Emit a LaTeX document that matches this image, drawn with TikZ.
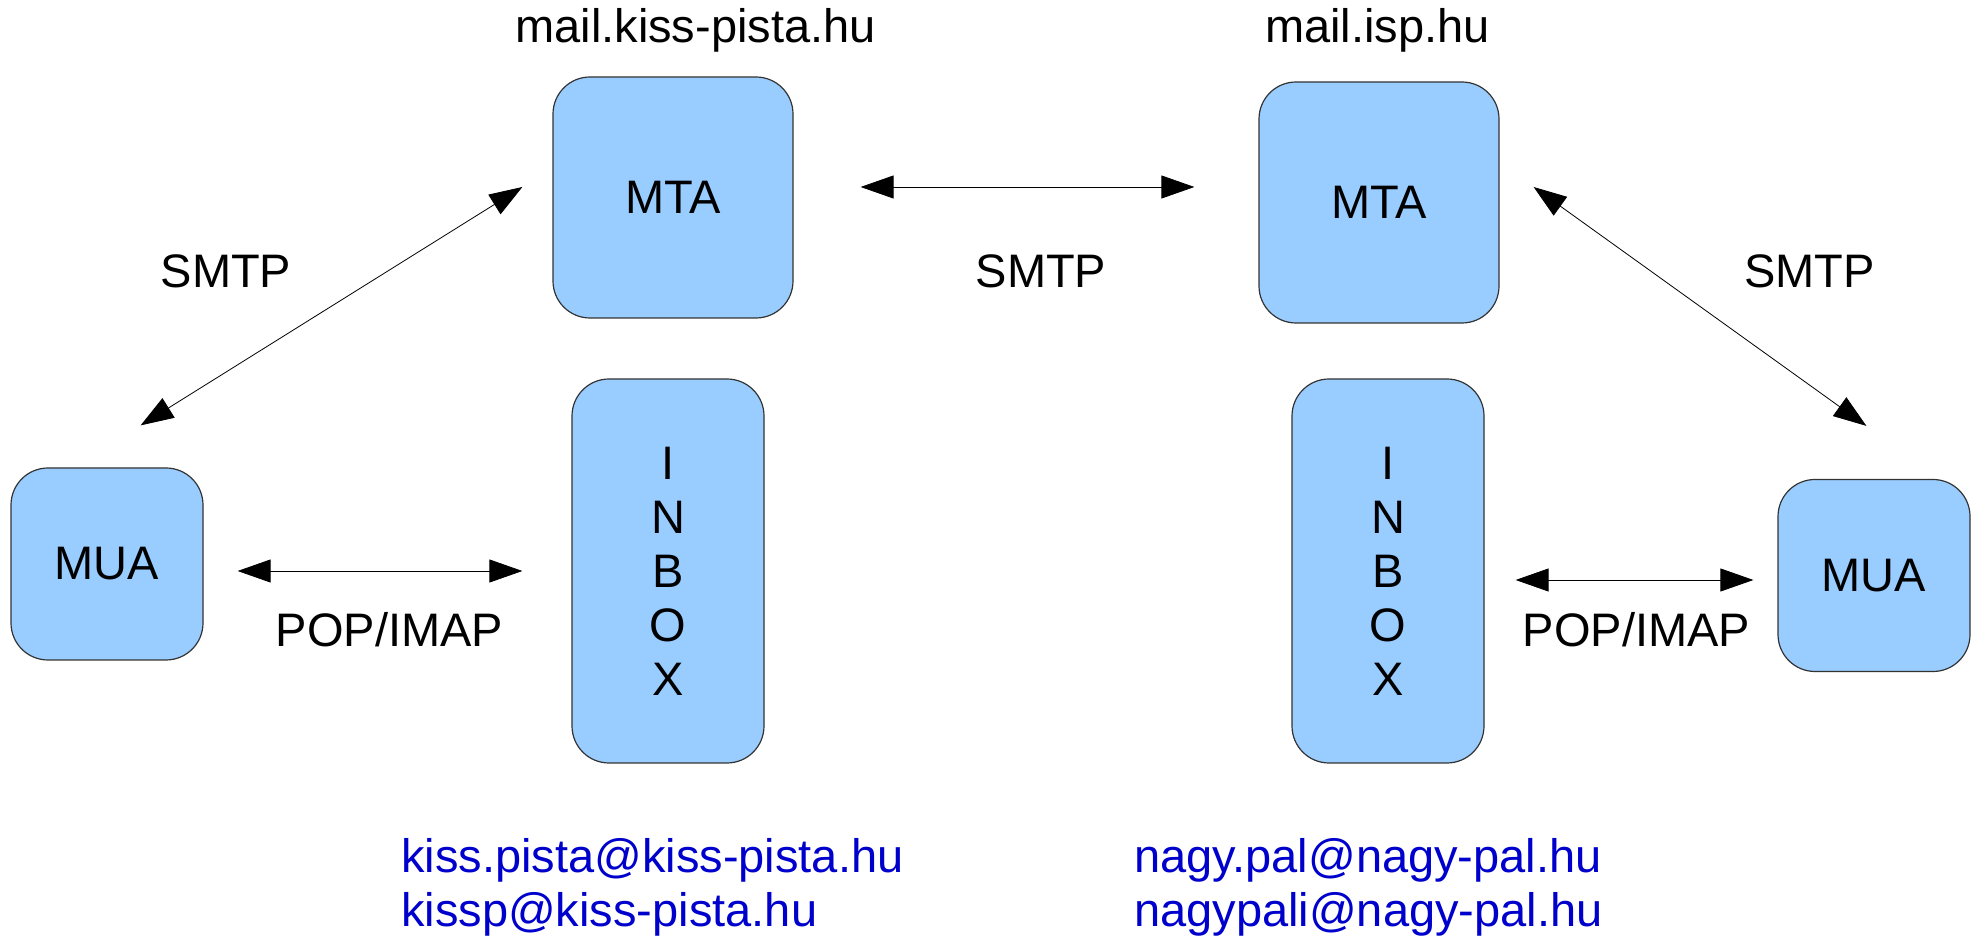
\documentclass[tikz,border=0pt]{standalone}
\usepackage{fontspec}
\setmainfont{Liberation Sans}
\usepackage{tikz}
\usetikzlibrary{arrows.meta}
\definecolor{boxblue}{HTML}{99CCFF}
\definecolor{addrblue}{HTML}{0000CC}
\newcommand{\diagfont}{\fontsize{47}{54}\selectfont}
\tikzstyle{agent}=[rectangle, draw=black!80, line width=1.2pt, fill=boxblue, rounded corners=37pt, inner sep=0pt, font=\diagfont]
\tikzstyle{proto}=[inner sep=0pt, anchor=base, font=\diagfont]
\tikzstyle{addr}=[inner sep=0pt, anchor=north west, align=left, text=addrblue, font=\diagfont]
\tikzstyle{link}=[{Triangle[length=33pt,width=23pt]}-{Triangle[length=33pt,width=23pt]}, line width=0.8pt]

\begin{document}
\begin{tikzpicture}[x=1pt, y=1pt]
    \useasboundingbox (0,0) rectangle (1978,937);
    \node[agent, minimum width=240pt, minimum height=241pt] (mta1) at ( 673, 739.5) {MTA};
    \node[agent, minimum width=240pt, minimum height=241pt] (mta2) at (1379, 734.5) {MTA};
    \node[agent, minimum width=192pt, minimum height=384pt, align=center] (inbox1) at ( 668, 366) {I\\N\\B\\O\\X};
    \node[agent, minimum width=192pt, minimum height=384pt, align=center] (inbox2) at (1388, 366) {I\\N\\B\\O\\X};
    \node[agent, minimum width=192pt, minimum height=192pt] (mua1) at ( 107, 373) {MUA};
    \node[agent, minimum width=192pt, minimum height=192pt] (mua2) at (1874, 361.5) {MUA};
    \node[proto] (host1) at ( 695.5, 894) {mail.kiss-pista.hu};
    \node[proto] (host2) at (1377.5, 894) {mail.isp.hu};
    \node[proto] (smtp1) at ( 226, 649) {SMTP};
    \node[proto] (smtp2) at (1041, 649) {SMTP};
    \node[proto] (smtp3) at (1809.5, 649) {SMTP};
    \node[proto] (pop1)  at ( 389.5, 290) {POP/IMAP};
    \node[proto] (pop2)  at (1636.5, 290) {POP/IMAP};
    \node[addr] (addr1) at ( 401, 99) {kiss.pista@kiss-pista.hu\\kissp@kiss-pista.hu};
    \node[addr] (addr2) at (1134, 99) {nagy.pal@nagy-pal.hu\\nagypali@nagy-pal.hu};
    \draw[link] ([shift={(-63,42)}]mua1.north east) -- ([shift={(-30,10.5)}]mta1.west);
    \draw[link] ([shift={(67,10.5)}]mta1.east) -- ([shift={(-64,15.5)}]mta2.west);
    \draw[link] ([shift={(34,15.5)}]mta2.east) -- ([shift={(89,53)}]mua2.north west);
    \draw[link] ([shift={(34,-7)}]mua1.east) -- ([shift={(-49,0)}]inbox1.west);
    \draw[link] ([shift={(31,-9)}]inbox2.east) -- ([shift={(-24,-4.5)}]mua2.west);
\end{tikzpicture}
\end{document}
